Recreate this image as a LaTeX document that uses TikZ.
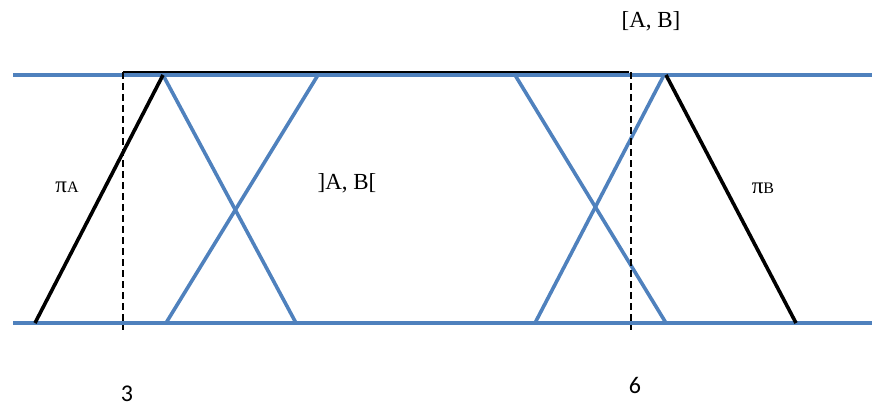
\documentclass[tikz,border=0pt]{standalone}
\usepackage{fontspec}
\setmainfont{Liberation Serif}
\newfontfamily\numfont{Carlito}
\definecolor{offblue}{RGB}{79,129,189}
\begin{document}
\begin{tikzpicture}[x=1pt,y=-1pt,
  blueline/.style={draw=offblue,line width=3.6pt},
  blackline/.style={draw=black,line width=3.6pt},
  guide/.style={draw=black,line width=1.8pt,dash pattern=on 7pt off 4pt},
  lbl/.style={inner sep=0pt,font=\fontsize{23}{27}\selectfont},
  numlbl/.style={inner sep=0pt,font=\numfont\fontsize{24}{28}\selectfont}]
\useasboundingbox (0,0) rectangle (872,407);
% coordinates
\coordinate (tl) at (13,75);
\coordinate (tr) at (872,75);
\coordinate (bl) at (13,323);
\coordinate (br) at (872,323);
\coordinate (bk1) at (123,72);
\coordinate (bk2) at (629,72);
\coordinate (d1t) at (123,72);
\coordinate (d1b) at (123,330);
\coordinate (d2t) at (631,72);
\coordinate (d2b) at (631,330);
\coordinate (pa0) at (35,323);
\coordinate (pa1) at (163,75);
\coordinate (b1a) at (296,323);
\coordinate (b2a) at (166,323);
\coordinate (b2b) at (318,75);
\coordinate (b3a) at (515,75);
\coordinate (b3b) at (666,323);
\coordinate (b4a) at (535,323);
\coordinate (b4b) at (664,75);
\coordinate (pb0) at (666,75);
\coordinate (pb1) at (796,323);
% lines
\draw[blueline] (tl) -- (tr);
\draw[blueline] (bl) -- (br);
\draw[blueline] (pa1) -- (b1a);
\draw[blueline] (b2a) -- (b2b);
\draw[blueline] (b3a) -- (b3b);
\draw[blueline] (b4a) -- (b4b);
\draw[blackline] (pa0) -- (pa1);
\draw[blackline] (pb0) -- (pb1);
\draw[black,line width=2.4pt] (bk1) -- (bk2);
\draw[guide] (d1t) -- (d1b);
\draw[guide] (d2t) -- (d2b);
% labels
\node[lbl] (ab) at (651,21) {[A, B]};
\node[lbl] (oab) at (347,183) {]A, B[};
\node[lbl] (pia) at (67,187) {π{\fontsize{16}{18}\selectfont A}};
\node[lbl] (pib) at (763,188) {π{\fontsize{16}{18}\selectfont B}};
\node[numlbl] (n3) at (127,394) {3};
\node[numlbl] (n6) at (635,385) {6};
\end{tikzpicture}
\end{document}
